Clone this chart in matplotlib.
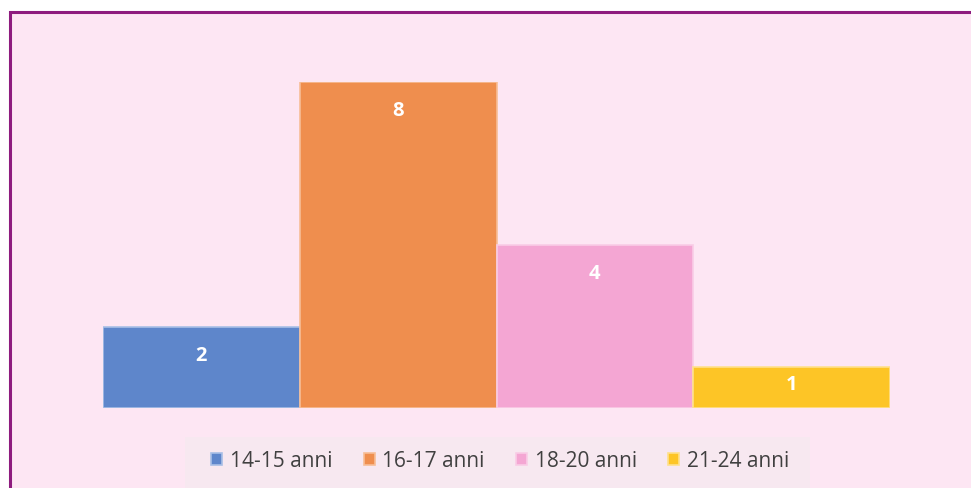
import matplotlib.pyplot as plt
from matplotlib.patches import Rectangle

# data
categories = ['14-15 anni', '16-17 anni', '18-20 anni', '21-24 anni']
values = [2, 8, 4, 1]
colors = ['#5E86CB', '#EF8E4E', '#F4A6D3', '#FDC526']
edges = ['#A8BFE6', '#F7BE97', '#F9CCE6', '#FFE08C']

plt.rcParams['font.family'] = ['Open Sans', 'DejaVu Sans']

W, H = 971, 489
fig = plt.figure(figsize=(W / 100, H / 100), dpi=100)
fig.patch.set_facecolor('white')

# pink panel with purple border
fig.add_artist(Rectangle((10 / W, -0.1), 1.2, (H - 13) / H + 0.1,
                         transform=fig.transFigure, facecolor='#FDE6F3',
                         edgecolor='#8E1B7E', linewidth=2.2, zorder=0))
# faint legend box
fig.add_artist(Rectangle((185 / W, -0.1), 625 / W, (H - 438) / H + 0.1,
                         transform=fig.transFigure, facecolor='#F7E8F0',
                         edgecolor='none', zorder=0.5))

ax = fig.add_axes([103 / W, (H - 409) / H, 787 / W, 326 / H])
ax.set_facecolor('none')
x = range(len(values))
bars = ax.bar(x, values, width=1.0, color=colors, edgecolor=edges, linewidth=1.2)
ax.set_xlim(-0.5, 3.5)
ax.set_ylim(0, 8)
ax.axis('off')

# labels inside the top of the bar (centred when the bar is short)
for b, v in zip(bars, values):
    ax.text(b.get_x() + b.get_width() / 2, v - min(0.69, v * 0.4), str(v),
            ha='center', va='center', color='white', fontsize=14.5, fontweight='bold')

leg = fig.legend(bars, categories, loc='center', bbox_to_anchor=(500 / W, 1 - 462 / H),
                 ncol=4, frameon=False, fontsize=15, handlelength=0.55, handleheight=0.55,
                 handletextpad=0.35, columnspacing=1.5)
for t in leg.get_texts():
    t.set_color('#404040')

fig.savefig('out.png', dpi=100)
